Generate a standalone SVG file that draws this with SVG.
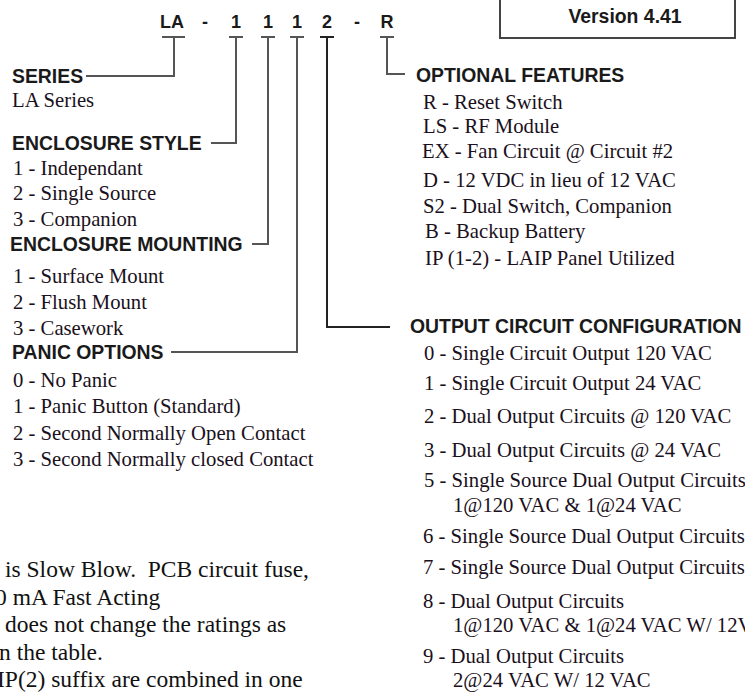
<svg xmlns="http://www.w3.org/2000/svg" width="745" height="692" viewBox="0 0 745 692">
<style>
.hd{font-family:"Liberation Sans",Arial,sans-serif;font-weight:bold;font-size:19.4px;fill:#1a1a1a}
.pn{font-family:"Liberation Sans",Arial,sans-serif;font-weight:bold;font-size:18px;fill:#1a1a1a;text-anchor:middle}
.it{font-family:"Liberation Serif","Times New Roman",serif;font-size:20.7px;fill:#1a1020}
.nt{font-family:"Liberation Serif","Times New Roman",serif;font-size:23.5px;fill:#111}
.cn{fill:none;stroke:#555;stroke-width:2}
.cnd{fill:none;stroke:#222;stroke-width:2}
</style>
<rect width="745" height="692" fill="#fff"/>
<g id="version-box">
<rect x="500" y="-20" width="235" height="58" fill="#fff" stroke="#444" stroke-width="2"/>
<text class="hd" x="625" y="23" text-anchor="middle">Version 4.41</text>
</g>
<g id="part-number">
<text class="pn" x="172" y="28">LA</text>
<text class="pn" x="205" y="28">-</text>
<text class="pn" x="236" y="28">1</text>
<text class="pn" x="268" y="28">1</text>
<text class="pn" x="297" y="28">1</text>
<text class="pn" x="327" y="28">2</text>
<text class="pn" x="357" y="28">-</text>
<text class="pn" x="387" y="28">R</text>
</g>
<g id="connectors">
<path class="cn" d="M162 37H185M174 37V76H86"/>
<path class="cn" d="M229 37H243M236 37V143H211"/>
<path class="cn" d="M261 37H275M268 37V244H252"/>
<path class="cn" d="M290 37H304M297 37V352H171"/>
<path class="cnd" d="M320 37H334M327 37V327H390"/>
<path class="cn" d="M380 37H394M387 37V74H405"/>
</g>
<g id="series">
<text class="hd" x="12" y="83">SERIES</text>
<text class="it" x="12" y="107">LA Series</text>
</g>
<g id="enclosure-style">
<text class="hd" x="12" y="150">ENCLOSURE STYLE</text>
<text class="it" x="13" y="175">1 - Independant</text>
<text class="it" x="13" y="200">2 - Single Source</text>
<text class="it" x="13" y="226">3 - Companion</text>
</g>
<g id="enclosure-mounting">
<text class="hd" x="10" y="251">ENCLOSURE MOUNTING</text>
<text class="it" x="13" y="283">1 - Surface Mount</text>
<text class="it" x="13" y="309">2 - Flush Mount</text>
<text class="it" x="13" y="335">3 - Casework</text>
</g>
<g id="panic-options">
<text class="hd" x="12" y="359">PANIC OPTIONS</text>
<text class="it" x="13" y="387">0 - No Panic</text>
<text class="it" x="13" y="413">1 - Panic Button (Standard)</text>
<text class="it" x="13" y="440">2 - Second Normally Open Contact</text>
<text class="it" x="13" y="466">3 - Second Normally closed Contact</text>
</g>
<g id="optional-features">
<text class="hd" x="416" y="82">OPTIONAL FEATURES</text>
<text class="it" x="423" y="109">R - Reset Switch</text>
<text class="it" x="423" y="133">LS - RF Module</text>
<text class="it" x="422" y="158">EX - Fan Circuit @ Circuit #2</text>
<text class="it" x="423" y="187">D - 12 VDC in lieu of 12 VAC</text>
<text class="it" x="423" y="213">S2 - Dual Switch, Companion</text>
<text class="it" x="425" y="238">B - Backup Battery</text>
<text class="it" x="425" y="265">IP (1-2) - LAIP Panel Utilized</text>
</g>
<g id="output-config">
<text class="hd" x="410" y="333">OUTPUT CIRCUIT CONFIGURATION</text>
<text class="it" x="424" y="360">0 - Single Circuit Output 120 VAC</text>
<text class="it" x="424" y="390">1 - Single Circuit Output 24 VAC</text>
<text class="it" x="424" y="423">2 - Dual Output Circuits @ 120 VAC</text>
<text class="it" x="424" y="457">3 - Dual Output Circuits @ 24 VAC</text>
<text class="it" x="424" y="487">5 - Single Source Dual Output Circuits</text>
<text class="it" x="453" y="512">1@120 VAC &amp; 1@24 VAC</text>
<text class="it" x="423" y="543">6 - Single Source Dual Output Circuits</text>
<text class="it" x="423" y="574">7 - Single Source Dual Output Circuits</text>
<text class="it" x="423" y="608">8 - Dual Output Circuits</text>
<text class="it" x="453" y="632">1@120 VAC &amp; 1@24 VAC W/ 12VAC</text>
<text class="it" x="423" y="663">9 - Dual Output Circuits</text>
<text class="it" x="453" y="687">2@24 VAC W/ 12 VAC</text>
</g>
<g id="notes">
<text class="nt" x="5" y="577">is Slow Blow.&#160; PCB circuit fuse,</text>
<text class="nt" x="-5" y="605">0 mA Fast Acting</text>
<text class="nt" x="5" y="632">does not change the ratings as</text>
<text class="nt" x="-1" y="660">n the table.</text>
<text class="nt" x="-3" y="687">IP(2) suffix are combined in one</text>
</g>
</svg>
